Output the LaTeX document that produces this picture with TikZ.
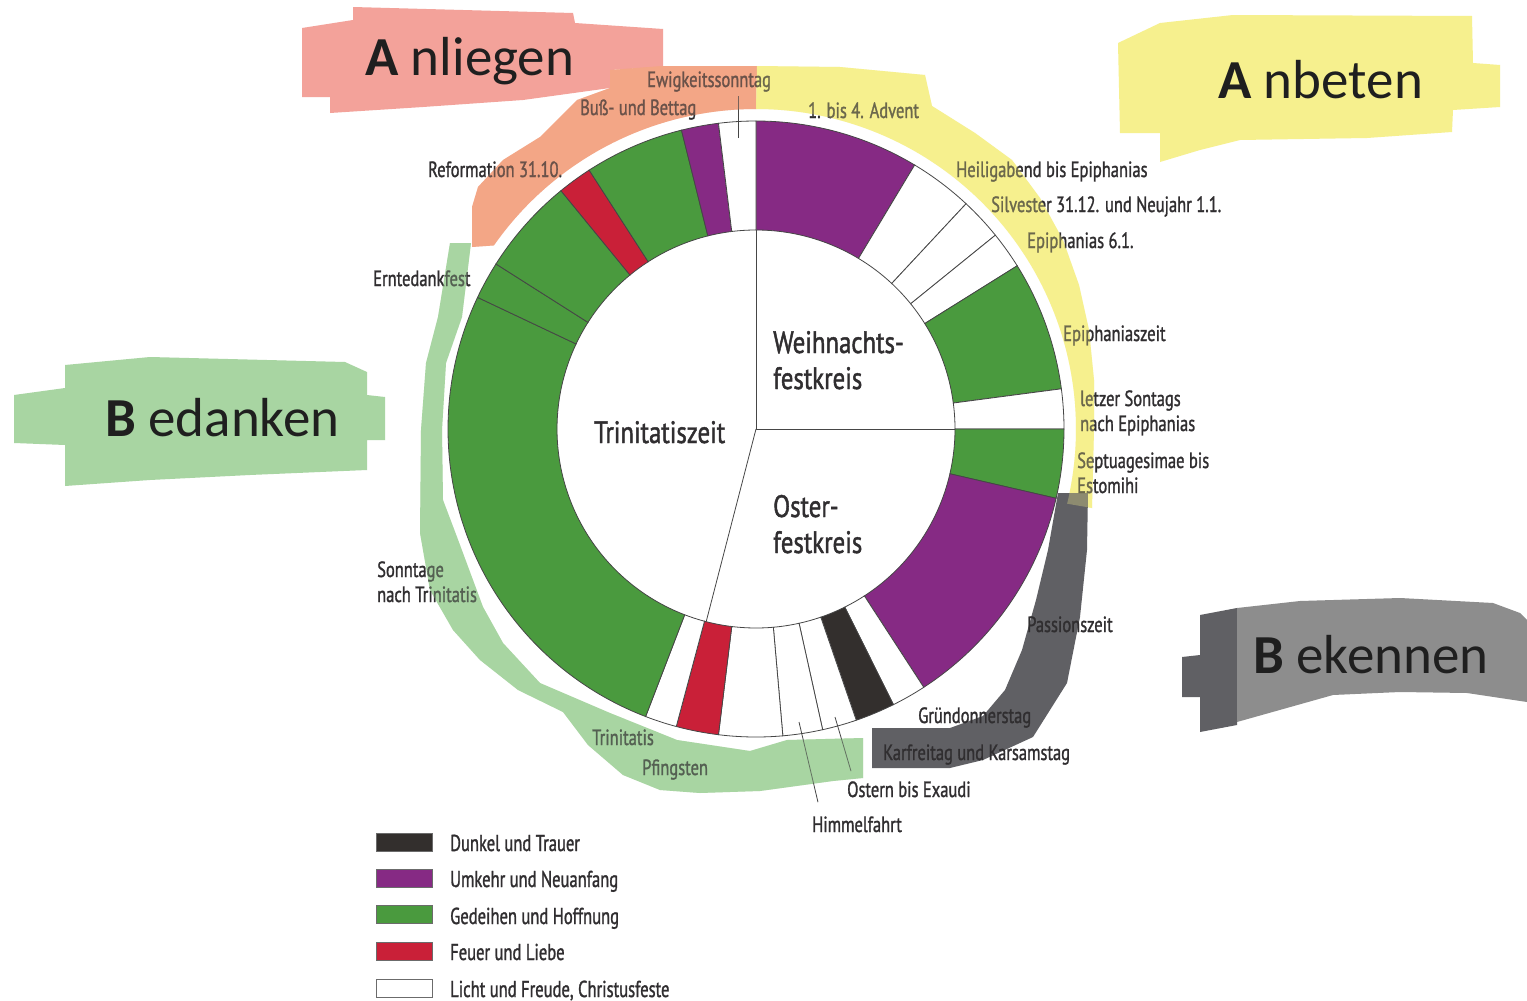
\documentclass[tikz,border=0pt]{standalone}
\usepackage{fontspec}
\setmainfont{PT Sans}
\newfontfamily\labfont[FakeStretch=0.75,FakeBold=1.2]{PT Sans}
\newfontfamily\legfont[FakeStretch=0.72,FakeBold=1.2]{PT Sans}
\newfontfamily\midfont[FakeStretch=0.8,FakeBold=1.4]{PT Sans}
\newfontfamily\bigfont{Carlito}
\usetikzlibrary{calc}
\definecolor{cpurple}{RGB}{134,42,132}
\definecolor{cgreen}{RGB}{74,154,62}
\definecolor{cred}{RGB}{201,32,56}
\definecolor{cblack}{RGB}{51,47,45}
\definecolor{outl}{RGB}{70,70,70}
\definecolor{txt}{RGB}{48,46,48}
\definecolor{hlpink}{RGB}{243,162,154}
\definecolor{hlsalmon}{RGB}{243,166,134}
\definecolor{hlyellow}{RGB}{246,240,142}
\definecolor{hlgreen}{RGB}{168,213,162}
\definecolor{hlgraydark}{RGB}{96,96,100}
\definecolor{hlgraylight}{RGB}{141,141,141}
\newcommand\ringseg[3]{\filldraw[segline, fill=#3] (#1:308) arc[start angle=#1, end angle=#2, radius=308] -- (#2:199) arc[start angle=#2, end angle=#1, radius=199] -- cycle;}
\newcommand\bandYellow[1]{\fill[#1] (757,66) -- (840,67) -- (925,75) -- (932,106) -- (975,133) -- (1012,160) -- (1040,198) -- (1063,240) -- (1079,285) -- (1089,330) -- (1094,380) -- (1094,430) -- (1093,470) -- (1092,508) -- ($(C)+(13.5:320)$) arc[start angle=13.5, end angle=-90, radius=320] -- cycle;}
\newcommand\bandSalmon[1]{\fill[#1] (757,66) -- (663,66) -- (610,70) -- (610,88) -- (577,100) -- (560,117) -- (540,137) -- (503,160) -- (478,187) -- (472,207) -- (472,247) -- ($(C)+(-145:320)$) arc[start angle=-145, end angle=-90, radius=320] -- cycle;}
\newcommand\bandGreen[1]{\fill[#1] (450,243) -- (438,317) -- (426,363) -- (421,430) -- (420,533) -- (430,590) -- (453,630) -- (480,660) -- (518,690) -- (563,712) -- (588,745) -- (623,775) -- (660,790) -- (700,793) -- (760,791) -- (833,781) -- (863,778) -- (863,738) -- (787,740) -- (750,751) -- (677,740) -- (610,713) -- (540,683) -- (503,643) -- (483,607) -- (457,537) -- (443,500) -- (442,430) -- (446,363) -- (462,317) -- (471,243) -- cycle;}
\begin{document}
\begin{tikzpicture}[x=1pt,y=-1pt,
  lab/.style={font=\labfont\fontsize{22}{25}\selectfont, text=txt, inner sep=0pt, anchor=base west},
  leg/.style={font=\legfont\fontsize{23}{26}\selectfont, text=txt, inner sep=0pt, anchor=base west},
  midlab/.style={font=\midfont\fontsize{31}{34}\selectfont, text=txt, inner sep=0pt, anchor=base west},
  big/.style={font=\bigfont\fontsize{55}{60}\selectfont, text=black!88, inner sep=0pt, anchor=base west},
  segline/.style={draw=outl, line width=0.8pt},
  leader/.style={draw=outl, line width=0.8pt},
  legbox/.style={draw=outl!80, line width=0.8pt, minimum width=56pt, minimum height=18pt, inner sep=0pt, anchor=west}
]
\useasboundingbox (0,0) rectangle (1527,1001);
\fill[white] (0,0) rectangle (1527,1001);
\coordinate (C) at (756,429);

% highlight boxes
\fill[hlpink] (302,28) -- (353,20) -- (353,7) -- (573,13) -- (575,23) -- (663,29) -- (663,67) -- (610,70) -- (610,88) -- (523,100) -- (423,107) -- (330,113) -- (330,97) -- (302,97) -- cycle;
\fill[hlyellow] (1118,43) -- (1160,23) -- (1233,15) -- (1472,16) -- (1473,63) -- (1500,65) -- (1500,107) -- (1453,110) -- (1452,132) -- (1367,138) -- (1240,140) -- (1200,150) -- (1160,162) -- (1160,133) -- (1120,133) -- cycle;
\fill[hlgreen] (14,395) -- (65,388) -- (65,365) -- (150,357) -- (345,362) -- (367,372) -- (367,395) -- (385,397) -- (385,440) -- (367,440) -- (367,470) -- (250,475) -- (150,480) -- (65,486) -- (65,445) -- (14,443) -- cycle;
\fill[hlgraydark] (1182,657) -- (1200,655) -- (1200,615) -- (1237,608) -- (1237,725) -- (1200,732) -- (1200,697) -- (1182,697) -- cycle;
\fill[hlgraylight] (1237,608) -- (1300,601) -- (1400,598) -- (1493,603) -- (1520,613) -- (1527,620) -- (1527,702) -- (1467,693) -- (1400,692) -- (1333,695) -- (1237,722) -- cycle;

% highlight bands
\bandSalmon{hlsalmon}
\bandYellow{hlyellow}
\bandGreen{hlgreen}
\fill[hlgraydark] (1058,493) -- (1088,493) -- (1087,550) -- (1080,617) -- (1067,683) -- (1033,737) -- (983,760) -- (950,768) -- (872,768) -- (872,728) -- (950,728) -- (983,716) -- (1005,690) -- (1022,650) -- (1036,600) -- (1048,550) -- cycle;

% ring
\begin{scope}[shift={(756,429)}, yscale=-1]
\fill[white] (0,0) circle[radius=199];
\ringseg{90}{59}{cpurple}
\ringseg{59}{47}{white}
\ringseg{47}{39}{white}
\ringseg{39}{32}{white}
\ringseg{32}{7.5}{cgreen}
\ringseg{7.5}{0}{white}
\ringseg{0}{-13}{cgreen}
\ringseg{-13}{-57}{cpurple}
\ringseg{-57}{-63.5}{white}
\ringseg{-63.5}{-71}{cblack}
\ringseg{-71}{-77.5}{white}
\ringseg{-77.5}{-85}{white}
\ringseg{-85}{-97}{white}
\ringseg{-97}{-105}{cred}
\ringseg{-105}{-111}{white}
\ringseg{-111}{-205.3}{cgreen}
\ringseg{154.7}{147.6}{cgreen}
\ringseg{147.6}{129.3}{cgreen}
\ringseg{129.3}{122.8}{cred}
\ringseg{122.8}{104}{cgreen}
\ringseg{104}{97}{cpurple}
\ringseg{97}{90}{white}
\draw[segline] (0,0) -- (90:199);
\draw[segline] (0,0) -- (0:199);
\draw[segline] (0,0) -- (-104.5:199);
\end{scope}

% inner labels
\node[midlab] (weih1) at (773,353) {Weihnachts-};
\node[midlab] (weih2) at (773,389) {festkreis};
\node[midlab] (trin) at (594,443) {Trinitatiszeit};
\node[midlab] (oster1) at (773,517) {Oster-};
\node[midlab] (oster2) at (773,553) {festkreis};

% ring labels
\node[lab] (ewig) at (647,87) {Ewigkeitssonntag};
\node[lab] (buss) at (580,115) {Buß- und Bettag};
\node[lab] (advent) at (808,118) {1. bis 4. Advent};
\node[lab] (reform) at (428,177) {Reformation 31.10.};
\node[lab] (heilig) at (956,177) {Heiligabend bis Epiphanias};
\node[lab] (silv) at (991,212) {Silvester 31.12. und Neujahr 1.1.};
\node[lab] (epi) at (1027,248) {Epiphanias 6.1.};
\node[lab] (ernte) at (373,286) {Erntedankfest};
\node[lab] (epizeit) at (1063,341) {Epiphaniaszeit};
\node[lab] (letzt1) at (1080,406) {letzer Sontags};
\node[lab] (letzt2) at (1080,431) {nach Epiphanias};
\node[lab] (septu1) at (1077,468) {Septuagesimae bis};
\node[lab] (septu2) at (1077,493) {Estomihi};
\node[lab] (sonnt1) at (377,577) {Sonntage};
\node[lab] (sonnt2) at (377,602) {nach Trinitatis};
\node[lab] (passion) at (1027,632) {Passionszeit};
\node[lab] (gruen) at (918,723) {Gründonnerstag};
\node[lab] (karfr) at (883,760) {Karfreitag und Karsamstag};
\node[lab] (trinit) at (592,745) {Trinitatis};
\node[lab] (pfing) at (642,775) {Pfingsten};
\node[lab] (ostern) at (847,797) {Ostern bis Exaudi};
\node[lab] (himmel) at (812,832) {Himmelfahrt};

% leaders
\coordinate (ewigTip) at (738,138);
\coordinate (ostTip) at (835,717);
\coordinate (himTip) at (799,722);
\draw[leader] (ewigTip) -- ($(ewig.south -| ewigTip)+(0,4)$);
\draw[leader] (ostTip) -- ($(ostern.north west)+(4,-10)$);
\draw[leader] (himTip) -- ($(himmel.north west)+(6,-14)$);

% big labels
\node[big] (anliegen) at (365,75) {\textbf{A} nliegen};
\node[big] (anbeten) at (1218,98) {\textbf{A} nbeten};
\node[big] (bedanken) at (105,436) {\textbf{B} edanken};
\node[big] (bekennen) at (1253,673) {\textbf{B} ekennen};

% legend
\node[legbox, fill=cblack] (lb1) at (376,842) {};
\node[legbox, fill=cpurple] (lb2) at (376,878) {};
\node[legbox, fill=cgreen] (lb3) at (376,914) {};
\node[legbox, fill=cred] (lb4) at (376,951) {};
\node[legbox, fill=white] (lb5) at (376,988) {};
\node[leg] (lt1) at (450,851) {Dunkel und Trauer};
\node[leg] (lt2) at (450,887) {Umkehr und Neuanfang};
\node[leg] (lt3) at (450,924) {Gedeihen und Hoffnung};
\node[leg] (lt4) at (450,960) {Feuer und Liebe};
\node[leg] (lt5) at (450,997) {Licht und Freude, Christusfeste};

% highlighter over text
\bandSalmon{hlsalmon, opacity=0.3}
\bandYellow{hlyellow, opacity=0.3}
\bandGreen{hlgreen, opacity=0.3}
\end{tikzpicture}
\end{document}
